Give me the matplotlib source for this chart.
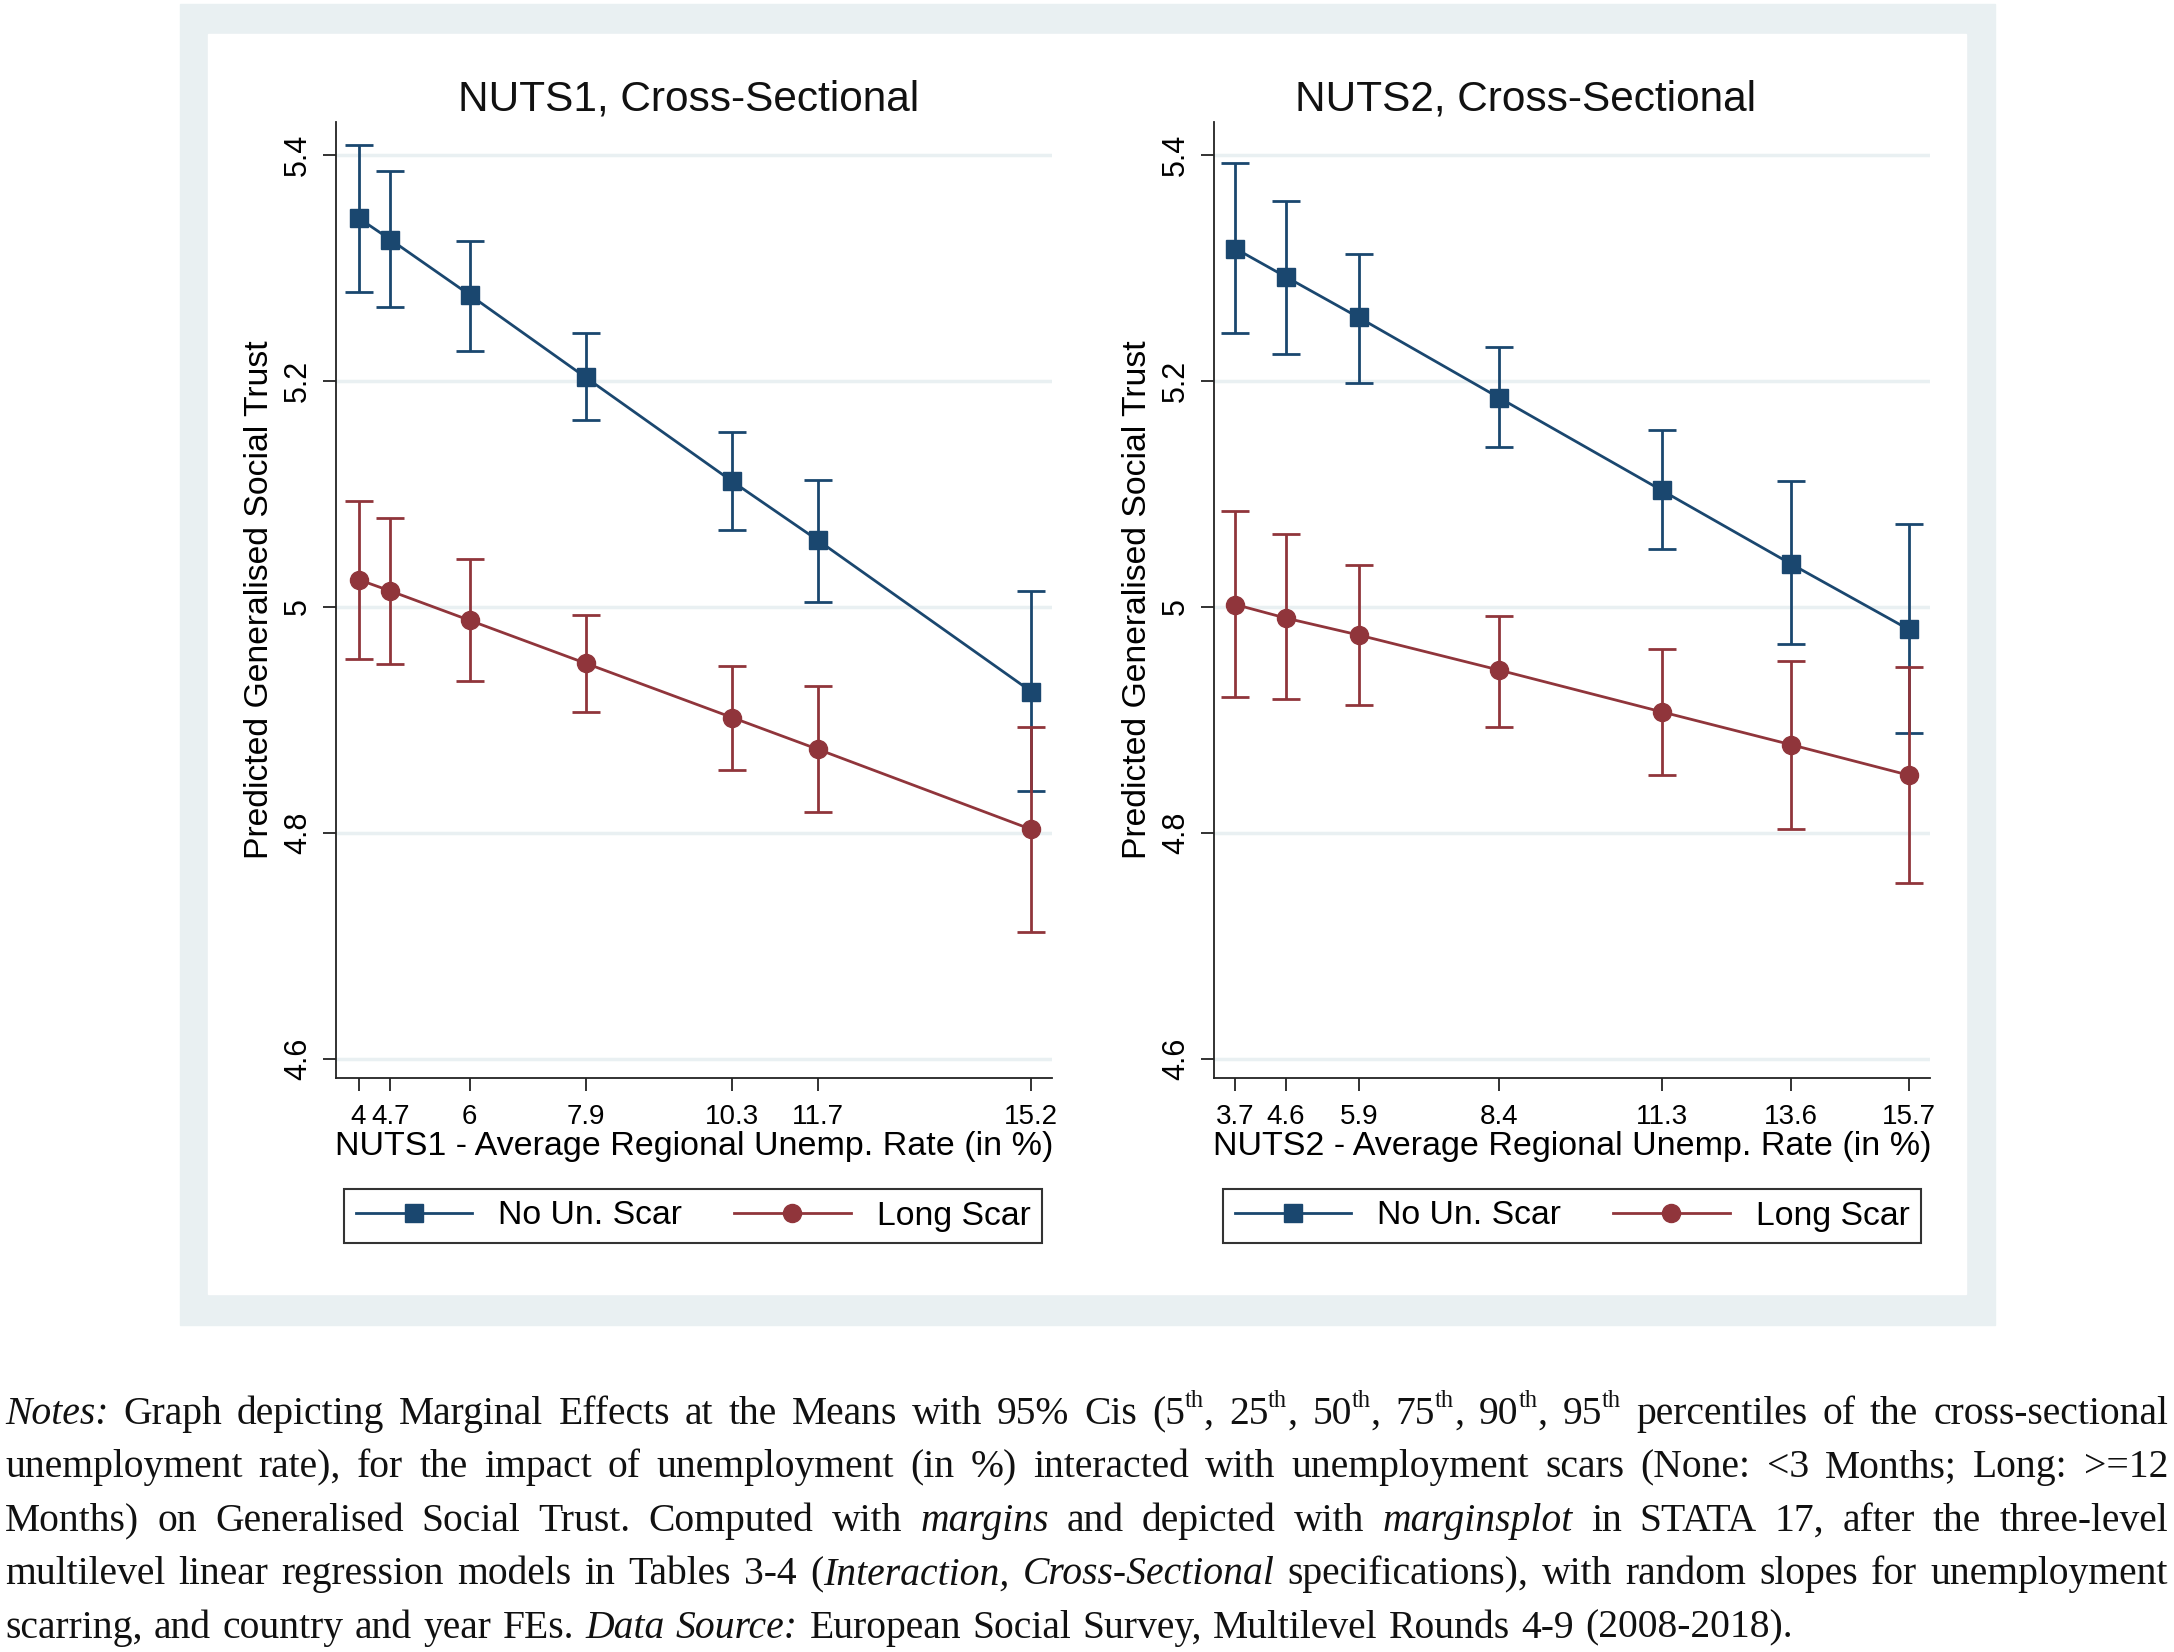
import matplotlib
matplotlib.use("Agg")
import matplotlib.pyplot as plt
from matplotlib.patches import Rectangle
from matplotlib.lines import Line2D

# data
x_nuts1 = [4.18, 4.7, 6, 7.9, 10.3, 11.7, 15.2]
xlabels_nuts1 = ["4", "4.7", "6", "7.9", "10.3", "11.7", "15.2"]
none_nuts1 = [5.344, 5.325, 5.276, 5.203, 5.111, 5.059, 4.925]
none_lo_nuts1 = [5.279, 5.265, 5.226, 5.165, 5.068, 5.004, 4.837]
none_hi_nuts1 = [5.409, 5.386, 5.324, 5.242, 5.155, 5.112, 5.014]
long_nuts1 = [5.024, 5.014, 4.988, 4.950, 4.902, 4.874, 4.803]
long_lo_nuts1 = [4.954, 4.949, 4.934, 4.907, 4.856, 4.818, 4.712]
long_hi_nuts1 = [5.094, 5.079, 5.042, 4.993, 4.948, 4.930, 4.894]

x_nuts2 = [3.7, 4.6, 5.9, 8.4, 11.3, 13.6, 15.7]
xlabels_nuts2 = ["3.7", "4.6", "5.9", "8.4", "11.3", "13.6", "15.7"]
none_nuts2 = [5.317, 5.292, 5.256, 5.185, 5.103, 5.038, 4.980]
none_lo_nuts2 = [5.242, 5.224, 5.198, 5.141, 5.051, 4.967, 4.888]
none_hi_nuts2 = [5.393, 5.359, 5.312, 5.230, 5.156, 5.111, 5.073]
long_nuts2 = [5.002, 4.990, 4.975, 4.944, 4.907, 4.878, 4.851]
long_lo_nuts2 = [4.920, 4.918, 4.913, 4.894, 4.851, 4.803, 4.756]
long_hi_nuts2 = [5.085, 5.064, 5.037, 4.992, 4.963, 4.952, 4.947]

y_ticks = [4.6, 4.8, 5.0, 5.2, 5.4]
y_ticklabels = ["4.6", "4.8", "5", "5.2", "5.4"]
series_names = ["No Un. Scar", "Long Scar"]

notes = [
    "*Notes:* Graph depicting Marginal Effects at the Means with 95% Cis (5^th^, 25^th^, 50^th^, 75^th^, 90^th^, 95^th^ percentiles of the cross-sectional",
    "unemployment rate), for the impact of unemployment (in %) interacted with unemployment scars (None: <3 Months; Long: >=12",
    "Months) on Generalised Social Trust. Computed with *margins* and depicted with *marginsplot* in STATA 17, after the three-level",
    "multilevel linear regression models in Tables 3-4 (*Interaction,* *Cross-Sectional* specifications), with random slopes for unemployment",
    "scarring, and country and year FEs. *Data* *Source:* European Social Survey, Multilevel Rounds 4-9 (2008-2018).",
]

NAVY = "#1a476f"
MAROON = "#90353b"
BG = "#e9f0f2"

W, H = 2174, 1652
plt.rcParams['font.family'] = ['Liberation Sans', 'DejaVu Sans']
fig = plt.figure(figsize=(W / 100, H / 100), dpi=100)
fig.patch.set_facecolor("white")


def fx(px):
    return px / W


def fy(py):
    return 1 - py / H


# stata graph region
fig.patches.append(Rectangle((fx(180), fy(1325)), fx(1995 - 180), (1325 - 4) / H,
                             transform=fig.transFigure, color=BG, zorder=-3))
fig.patches.append(Rectangle((fx(208), fy(1294)), fx(1966 - 208), (1294 - 34) / H,
                             transform=fig.transFigure, color="white", zorder=-2))

panels = [
    dict(left=336, right=1052, x=x_nuts1, xticklabels=xlabels_nuts1, xlim=(3.81, 15.54),
         title="NUTS1, Cross-Sectional", title_x=689,
         xlabel="NUTS1 - Average Regional Unemp. Rate (in %)",
         series=[(none_nuts1, none_lo_nuts1, none_hi_nuts1),
                 (long_nuts1, long_lo_nuts1, long_hi_nuts1)],
         legend_x=693),
    dict(left=1214, right=1930, x=x_nuts2, xticklabels=xlabels_nuts2, xlim=(3.32, 16.08),
         title="NUTS2, Cross-Sectional", title_x=1526,
         xlabel="NUTS2 - Average Regional Unemp. Rate (in %)",
         series=[(none_nuts2, none_lo_nuts2, none_hi_nuts2),
                 (long_nuts2, long_lo_nuts2, long_hi_nuts2)],
         legend_x=1572),
]

top, bottom = 122, 1078
colors = [NAVY, MAROON]
markers = ["s", "o"]

for p in panels:
    ax = fig.add_axes([fx(p["left"]), fy(bottom), fx(p["right"] - p["left"]), (bottom - top) / H])
    ax.set_facecolor("white")
    for (mid, lo, hi), c in zip(p["series"], colors):
        err = [[m - l for m, l in zip(mid, lo)], [h - m for m, h in zip(mid, hi)]]
        ax.errorbar(p["x"], mid, yerr=err, fmt="none", ecolor=c, elinewidth=2,
                    capsize=10, capthick=2, zorder=3)
    for (mid, lo, hi), c, mk in zip(p["series"], colors, markers):
        ax.plot(p["x"], mid, color=c, lw=2, marker=mk, markersize=13, zorder=4)

    ax.set_xlim(*p["xlim"])
    ax.set_ylim(4.583, 5.429)
    ax.set_yticks(y_ticks)
    ax.set_yticklabels(y_ticklabels)
    ax.set_xticks(p["x"])
    ax.set_xticklabels(p["xticklabels"])
    ax.grid(axis="y", color=BG, lw=2.5, zorder=0)
    ax.set_axisbelow(True)
    for s in ["top", "right"]:
        ax.spines[s].set_visible(False)
    for s in ["left", "bottom"]:
        ax.spines[s].set_color("#222222")
        ax.spines[s].set_linewidth(1.3)
    ax.tick_params(axis="both", length=9.5, width=1.3, color="#222222")
    ax.tick_params(axis="x", pad=9, labelsize=20)
    ax.tick_params(axis="y", labelrotation=90, pad=7, labelsize=22)
    for lab in ax.get_yticklabels():
        lab.set_va("center")
    fig.text(fx(p["title_x"]), fy(110), p["title"], fontsize=30.5, ha="center",
             va="baseline", color="#111111")
    ax.set_xlabel(p["xlabel"], fontsize=24.5, labelpad=1)
    ax.set_ylabel("Predicted Generalised Social Trust", fontsize=24.3, labelpad=6)

    handles = [Line2D([], [], color=c, marker=mk, markersize=13, lw=2)
               for c, mk in zip(colors, markers)]
    leg = ax.legend(handles, series_names, loc="center", ncol=2, fontsize=24.3,
                    bbox_to_anchor=(fx(p["legend_x"]), fy(1216)),
                    bbox_transform=fig.transFigure, frameon=True, fancybox=False,
                    edgecolor="black", borderpad=0.35, handlelength=3.45,
                    handletextpad=0.77, columnspacing=1.55, borderaxespad=0)
    leg.get_frame().set_linewidth(1.5)

# justified notes paragraph in serif
renderer = fig.canvas.get_renderer()
NSIZE = 28.5
SERIF = "Liberation Serif"


def parse_word(word):
    segs = []
    italic = False
    sup = False
    buf = ""
    for ch in word:
        if ch in "*^":
            if buf:
                segs.append((buf, italic, sup))
            buf = ""
            if ch == "*":
                italic = not italic
            else:
                sup = not sup
        else:
            buf += ch
    if buf:
        segs.append((buf, italic, sup))
    return segs


def seg_width(text, italic, sup):
    t = fig.text(0, 0, text, fontsize=NSIZE * (0.62 if sup else 1), family=SERIF,
                 style="italic" if italic else "normal")
    w = t.get_window_extent(renderer=renderer).width
    t.remove()
    return w


x_left, x_right = 5, 2168
baseline0, line_gap = 1424, 53.4
space_w = seg_width("a b", False, False) - seg_width("ab", False, False)

for i, line in enumerate(notes):
    words = [parse_word(w) for w in line.split(" ")]
    widths = [[seg_width(*s) for s in w] for w in words]
    total = sum(sum(ws) for ws in widths)
    if i < len(notes) - 1:
        gap = (x_right - x_left - total) / (len(words) - 1)
    else:
        gap = space_w * 1.15
    base = baseline0 + i * line_gap
    x = x_left
    for segs, ws in zip(words, widths):
        for (text, italic, sup), w in zip(segs, ws):
            yb = base - (NSIZE * 0.42 * 100 / 72 if sup else 0)
            fig.text(fx(x), fy(yb), text, fontsize=NSIZE * (0.62 if sup else 1),
                     family=SERIF, style="italic" if italic else "normal",
                     va="baseline", ha="left", color="#111111")
            x += w
        x += gap

fig.savefig("out.png", dpi=100)
